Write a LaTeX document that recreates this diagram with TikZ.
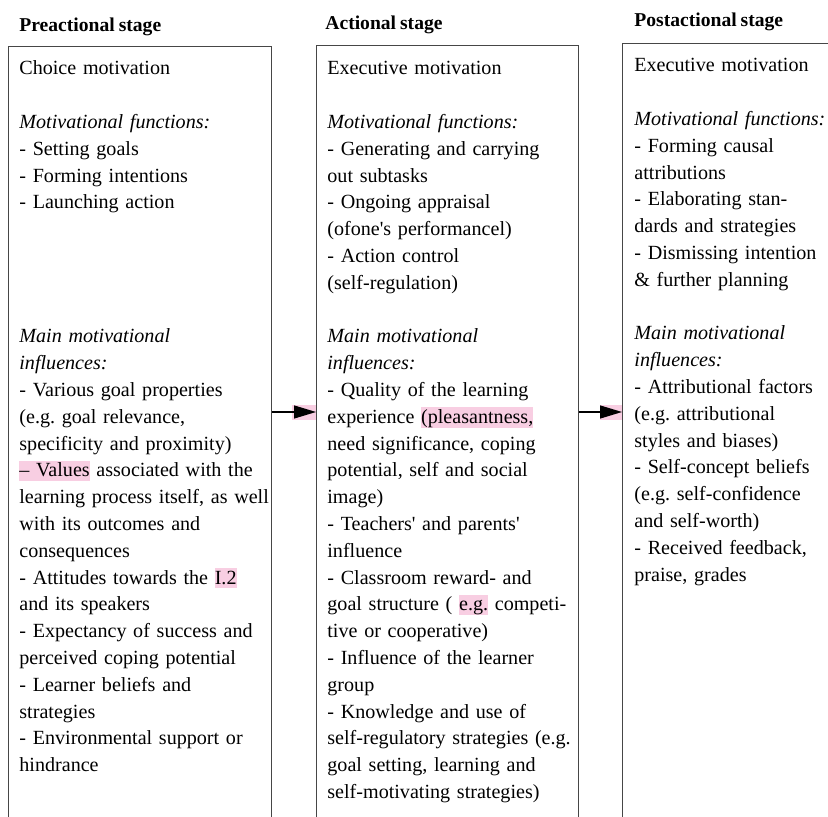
\documentclass[tikz,border=0pt]{standalone}
\usepackage{fontspec}
\setmainfont{Liberation Serif}[WordSpace=0.8]
\usetikzlibrary{arrows.meta}
\definecolor{markpink}{RGB}{248,206,226}
\definecolor{boxline}{RGB}{70,70,70}
\newcommand{\pinkmark}[1]{{\setlength{\fboxsep}{0pt}\colorbox{markpink}{\rule[-2pt]{0pt}{10pt}#1}}}
\frenchspacing
\tikzset{
    stagebox/.style={draw=boxline,line width=0.6pt,rectangle,anchor=north west,inner sep=0pt},
    stagehead/.style={anchor=base west,inner sep=0pt,font=\fontsize{9.8}{12}\selectfont\bfseries},
    stagetext/.style={anchor=base west,inner sep=0pt,text width=#1,align=left,font=\fontsize{10.05}{13.4}\selectfont},
    flow/.style={-{Triangle[length=11pt,width=6.5pt]},line width=0.6pt},
    marker/.style={fill=markpink,draw=none},
}

\begin{document}
\begin{tikzpicture}[x=0.5pt,y=-0.5pt]
\useasboundingbox (0,0) rectangle (828,817);
% stage headings
\node[stagehead] (hpre) at (19,32) {Preactional stage};
\node[stagehead] (hact) at (325,30) {Actional stage};
\node[stagehead] (hpost) at (634,27) {Postactional stage};
% pink marks from the scan
\fill[marker] (292,405) rectangle (316,420);
\fill[marker] (600,405) rectangle (622,420);
% the boxes run off the page at the bottom
\node[stagebox,minimum width=131.5pt,minimum height=410pt] (pre) at (8,46) {};
\node[stagebox,minimum width=131pt,minimum height=410pt] (act) at (316,45) {};
\node[stagebox,minimum width=125pt,minimum height=410pt] (post) at (622,43) {};
% box contents
\node[stagetext=150pt] (tpre) at (19,75) {Choice motivation\\[13.4pt]
\textit{Motivational functions:}\\
- Setting goals\\
- Forming intentions\\
- Launching action\\[53.6pt]
\textit{Main motivational}\\
\textit{influences:}\\
- Various goal properties\\
(e.g. goal relevance,\\
specificity and proximity)\\
\pinkmark{-- Values} associated with the\\
learning process itself, as well\\
with its outcomes and\\
consequences\\
- Attitudes towards the \pinkmark{I.2}\\
and its speakers\\
- Expectancy of success and\\
perceived coping potential\\
- Learner beliefs and\\
strategies\\
- Environmental support or\\
hindrance};
\node[stagetext=150pt] (tact) at (327,75) {Executive motivation\\[13.4pt]
\textit{Motivational functions:}\\
- Generating and carrying\\
out subtasks\\
- Ongoing appraisal\\
(ofone\textquotesingle s performancel)\\
- Action control\\
(self-regulation)\\[13.4pt]
\textit{Main motivational}\\
\textit{influences:}\\
- Quality of the learning\\
experience \pinkmark{(pleasantness,}\\
need significance, coping\\
potential, self and social\\
image)\\
- Teachers\textquotesingle{} and parents\textquotesingle\\
influence\\
- Classroom reward- and\\
goal structure ( \pinkmark{e.g.} competi-\\
tive or cooperative)\\
- Influence of the learner\\
group\\
- Knowledge and use of\\
self-regulatory strategies (e.g.\\
goal setting, learning and\\
self-motivating strategies)};
\node[stagetext=120pt] (tpost) at (634,72) {Executive motivation\\[13.4pt]
\textit{Motivational functions:}\\
- Forming causal\\
attributions\\
- Elaborating stan-\\
dards and strategies\\
- Dismissing intention\\
\& further planning\\[13.4pt]
\textit{Main motivational}\\
\textit{influences:}\\
- Attributional factors\\
(e.g. attributional\\
styles and biases)\\
- Self-concept beliefs\\
(e.g. self-confidence\\
and self-worth)\\
- Received feedback,\\
praise, grades};
% arrows between the stages
\coordinate (flowy) at (0,412);
\draw[flow] (pre.east |- flowy) -- (act.west |- flowy);
\draw[flow] (act.east |- flowy) -- (post.west |- flowy);
\end{tikzpicture}
\end{document}
